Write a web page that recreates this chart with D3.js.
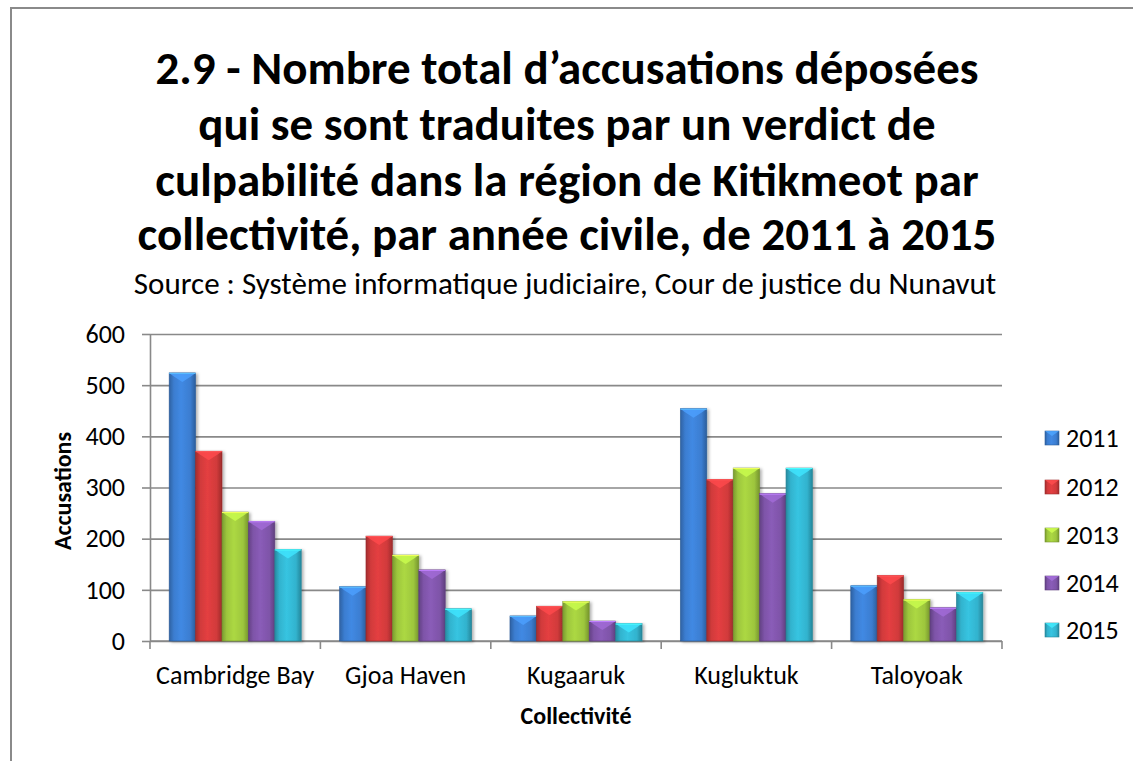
<!DOCTYPE html>
<html>
<head>
<meta charset="utf-8">
<script src="https://cdn.jsdelivr.net/npm/d3@7"></script>
<style>
  body { margin: 0; background: #fff; }
  svg { display: block; font-family: Carlito, Calibri, "Open Sans", sans-serif; }
</style>
</head>
<body>
<div class="chart"></div>
<script>
// data
const categories = ["Cambridge Bay", "Gjoa Haven", "Kugaaruk", "Kugluktuk", "Taloyoak"];
const years = ["2011", "2012", "2013", "2014", "2015"];
const v2011 = [524, 106, 49, 454, 108];
const v2012 = [371, 205, 68, 316, 128];
const v2013 = [252, 168, 77, 338, 81];
const v2014 = [234, 139, 39, 288, 65];
const v2015 = [179, 63, 34, 338, 95];
const yTicks = [0, 100, 200, 300, 400, 500, 600];
const titleLines = [
  "2.9 - Nombre total d\u2019accusations déposées",
  "qui se sont traduites par un verdict de",
  "culpabilité dans la région de Kitikmeot par",
  "collectivité, par année civile, de 2011 à 2015"
];
const subtitle = "Source : Système informatique judiciaire, Cour de justice du Nunavut";

const series = [v2011, v2012, v2013, v2014, v2015];
const colors = ["#3b7dd0", "#d13a3b", "#9dc63d", "#7e54a8", "#32b3ce"];

const W = 1133, H = 761;
const margin = { top: 334, left: 150, right: 131, bottom: 120 };
const width = W - margin.left - margin.right;   // 852
const height = H - margin.top - margin.bottom;  // ~307

const svg = d3.select(".chart").append("svg")
  .attr("width", W).attr("height", H);

const defs = svg.append("defs");
colors.forEach((c, i) => {
  const base = d3.color(c);
  const g = defs.append("linearGradient").attr("id", "grad" + i)
    .attr("x1", "0%").attr("x2", "100%").attr("y1", "0%").attr("y2", "0%");
  g.append("stop").attr("offset", "0%").attr("stop-color", base.darker(0.7));
  g.append("stop").attr("offset", "18%").attr("stop-color", base);
  g.append("stop").attr("offset", "45%").attr("stop-color", base.brighter(0.25));
  g.append("stop").attr("offset", "80%").attr("stop-color", base);
  g.append("stop").attr("offset", "100%").attr("stop-color", base.darker(0.8));
});
const shadow = defs.append("filter").attr("id", "shadow")
  .attr("x", "-20%").attr("y", "-5%").attr("width", "150%").attr("height", "115%");
shadow.append("feDropShadow").attr("dx", 2).attr("dy", 1).attr("stdDeviation", 1.5)
  .attr("flood-color", "#000").attr("flood-opacity", 0.3);

// chart frame
svg.append("path")
  .attr("d", `M11,${H} L11,8 L${W},8`)
  .attr("fill", "none").attr("stroke", "#8a8a8a").attr("stroke-width", 2);

// title, fitted to the width it takes in the picture
const titleBase = [84, 140, 196, 250];
const title = svg.append("g").attr("font-weight", "bold").attr("text-anchor", "middle");
title.selectAll("text").data(titleLines).join("text")
  .attr("x", 567).attr("y", (d, i) => titleBase[i])
  .attr("font-size", 40).attr("fill", "#000")
  .text(d => d);
const longest = title.selectAll("text").nodes()[3].getComputedTextLength();
title.selectAll("text").attr("font-size", 40 * 859 / longest);

const sub = svg.append("text").attr("x", 565).attr("y", 294)
  .attr("text-anchor", "middle").attr("font-size", 24).text(subtitle);
sub.attr("font-size", 24 * 863 / sub.node().getComputedTextLength());

const chart = svg.append("g").attr("transform", `translate(${margin.left},${margin.top})`);

const x0 = d3.scaleBand().domain(categories).range([0, width])
  .paddingInner(0.225).paddingOuter(0.1125);
const x1 = d3.scaleBand().domain(years).range([0, x0.bandwidth()]);
const y = d3.scaleLinear().domain([0, 600]).range([height, 0]);

// gridlines
chart.append("g")
  .call(d3.axisLeft(y).tickValues(yTicks).tickSize(-width).tickFormat(""))
  .call(g => g.select(".domain").remove())
  .selectAll("line").attr("stroke", "#898989").attr("stroke-width", 1.6);

// y axis
const yAxis = chart.append("g")
  .call(d3.axisLeft(y).tickValues(yTicks).tickSize(8).tickPadding(17).tickSizeOuter(0));
yAxis.select(".domain").attr("stroke", "#898989").attr("stroke-width", 1.6);
yAxis.selectAll("line").attr("stroke", "#898989").attr("stroke-width", 1.6);
yAxis.selectAll("text").attr("font-size", 26).attr("fill", "#000")
  .attr("font-family", "Carlito, Calibri, 'Open Sans', sans-serif");

// x axis: ticks sit between the categories
const xAxis = chart.append("g").attr("transform", `translate(0,${height})`);
const bounds = d3.range(categories.length + 1).map(i => i * x0.step());
xAxis.append("line").attr("x1", 0).attr("x2", width)
  .attr("stroke", "#898989").attr("stroke-width", 1.6);
xAxis.selectAll(".tk").data(bounds).join("line").attr("class", "tk")
  .attr("x1", d => d).attr("x2", d => d).attr("y1", 0).attr("y2", 8)
  .attr("stroke", "#898989").attr("stroke-width", 1.6);
xAxis.selectAll(".lbl").data(categories).join("text").attr("class", "lbl")
  .attr("x", d => x0(d) + x0.bandwidth() / 2).attr("y", 43)
  .attr("text-anchor", "middle").attr("font-size", 26).text(d => d);

// bars
const groups = chart.selectAll(".grp").data(categories).join("g").attr("class", "grp")
  .attr("transform", d => `translate(${x0(d)},0)`);

groups.each(function (cat, ci) {
  const g = d3.select(this);
  years.forEach((yr, si) => {
    const v = series[si][ci];
    const bx = x1(yr), bw = x1.bandwidth(), by = y(v), bh = height - y(v);
    const base = d3.color(colors[si]);
    g.append("rect").attr("x", bx).attr("y", by).attr("width", bw).attr("height", bh)
      .attr("fill", `url(#grad${si})`).attr("filter", "url(#shadow)")
      .attr("stroke", base.darker(0.9)).attr("stroke-width", 0.6);
    // top bevel
    const bev = Math.min(9, bh);
    g.append("path")
      .attr("d", `M${bx},${by} L${bx + bw},${by} L${bx + bw - 4},${by + 3} L${bx + bw / 2},${by + bev} L${bx + 4},${by + 3} Z`)
      .attr("fill", base.brighter(0.7)).attr("opacity", 0.8);
    g.append("line").attr("x1", bx).attr("x2", bx + bw).attr("y1", by + 0.5).attr("y2", by + 0.5)
      .attr("stroke", base.brighter(1.2)).attr("stroke-width", 1);
  });
});

// axis titles
svg.append("text")
  .attr("transform", "translate(71,491) rotate(-90)")
  .attr("text-anchor", "middle").attr("font-weight", "bold").attr("font-size", 24)
  .text("Accusations");
svg.append("text").attr("x", 576).attr("y", 724)
  .attr("text-anchor", "middle").attr("font-weight", "bold").attr("font-size", 24)
  .text("Collectivité");

// legend
const legendY = [438, 487, 535, 583, 630];
const legend = svg.append("g");
years.forEach((yr, i) => {
  const base = d3.color(colors[i]);
  const row = legend.append("g").attr("transform", `translate(1045,${legendY[i]})`);
  row.append("rect").attr("x", 0).attr("y", -7).attr("width", 14).attr("height", 14)
    .attr("fill", `url(#grad${i})`).attr("stroke", base.darker(0.8)).attr("stroke-width", 0.6);
  row.append("path").attr("d", "M0,-7 L14,-7 L7,-2 Z").attr("fill", base.brighter(0.8)).attr("opacity", 0.8);
  row.append("text").attr("x", 21).attr("y", 9).attr("font-size", 26).text(yr);
});
</script>
</body>
</html>
